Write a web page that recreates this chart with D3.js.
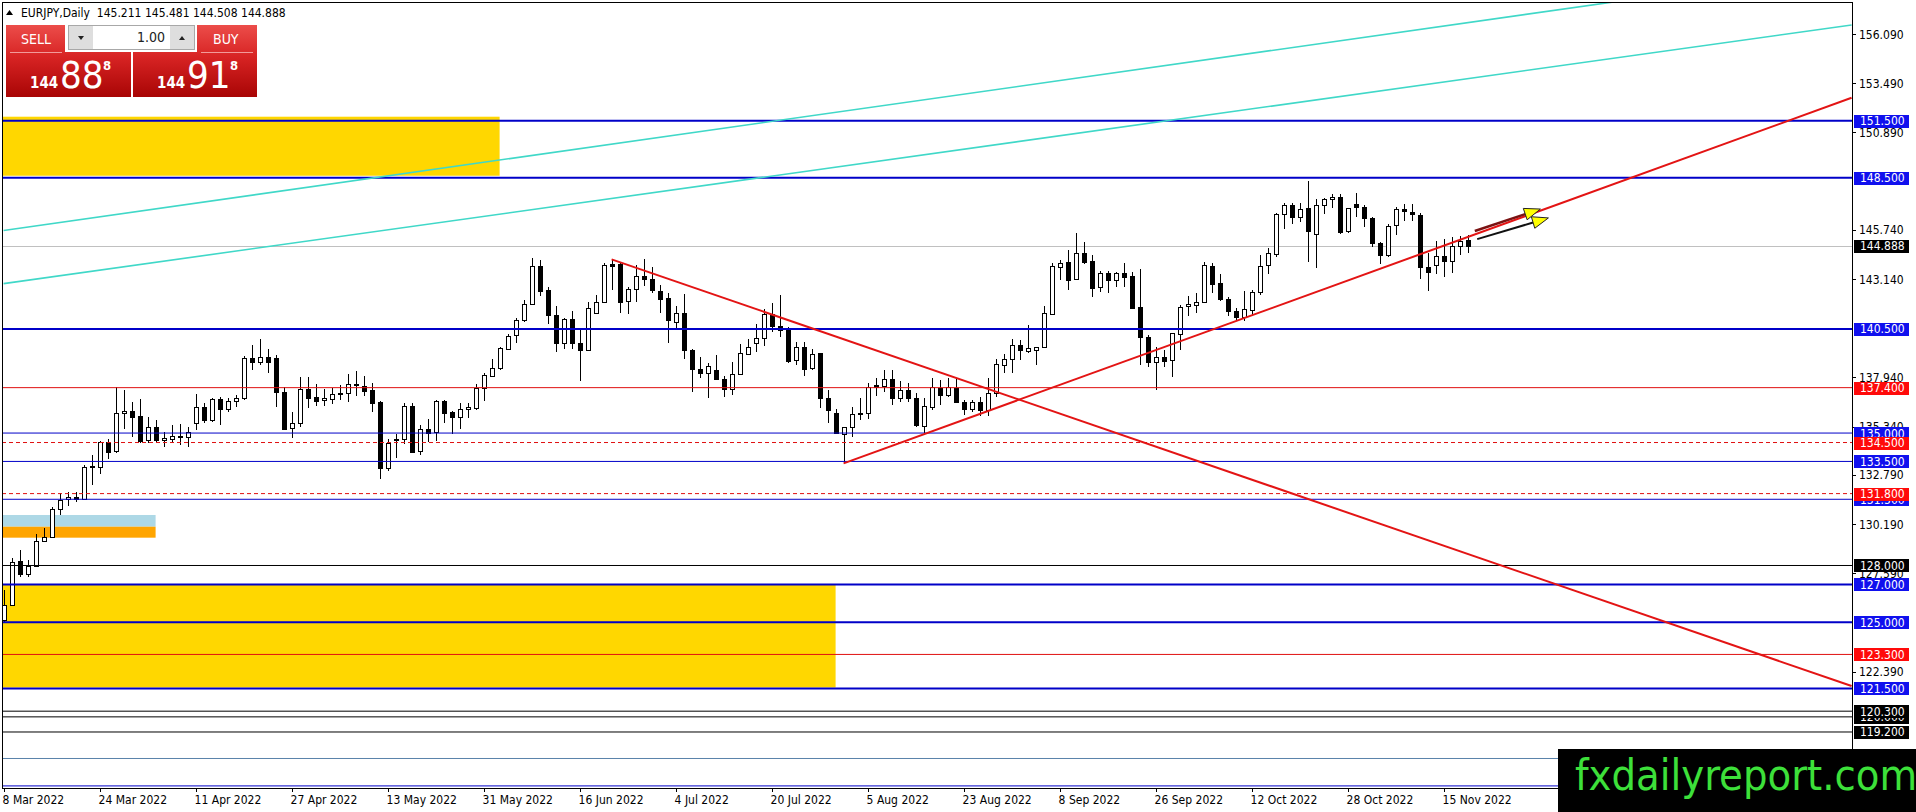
<!DOCTYPE html>
<html>
<head>
<meta charset="utf-8">
<script src="https://cdn.jsdelivr.net/npm/d3@7"></script>
<style>
body{margin:0;background:#fff;overflow:hidden}
text{font-family:"DejaVu Sans Condensed","DejaVu Sans",sans-serif}
</style>
</head>
<body>
<script>
// EURJPY daily candles, 8 Mar 2022 .. 18 Nov 2022
const opens = [
125.10,125.95,128.24,127.53,127.97,129.26,129.49,130.97,131.51,131.60,
131.53,133.25,133.22,134.53,134.02,136.04,136.16,135.90,134.60,135.30,
134.61,134.70,134.84,134.81,135.51,136.36,135.65,136.78,136.25,136.67,
136.82,138.95,138.74,139.00,138.95,137.19,135.24,135.51,137.31,136.90,
136.73,136.81,137.10,137.08,137.57,137.50,137.27,136.62,133.12,134.67,
134.67,136.43,134.02,135.20,135.07,136.69,136.11,135.83,136.25,136.36,
137.40,138.01,138.45,139.44,140.18,140.94,141.80,143.83,142.56,141.24,
139.78,141.03,139.74,139.35,141.33,141.91,143.93,143.93,141.94,142.60,
143.30,143.12,142.52,142.12,140.87,141.33,139.39,138.38,138.16,138.33,
137.84,137.31,138.10,139.21,139.74,140.01,141.29,140.66,140.45,138.89,
139.56,138.42,139.21,136.83,136.04,134.98,135.34,136.00,136.04,137.54,
137.49,137.84,136.83,137.27,136.83,135.39,136.39,137.36,136.97,137.36,
136.62,136.27,136.62,136.20,137.10,138.56,138.89,139.63,139.35,139.39,
139.53,141.29,143.80,144.02,143.18,144.53,144.09,142.70,143.44,143.05,
143.48,143.30,141.64,140.09,138.77,139.04,138.82,140.27,141.68,141.73,
141.91,143.85,142.91,142.07,141.45,141.15,141.54,142.47,143.85,144.44,
146.56,147.05,146.40,146.88,145.50,147.05,147.35,147.46,145.64,147.09,
146.93,146.35,145.03,144.41,145.96,146.82,146.67,146.52,143.79,143.88,
144.38,144.09,144.90,145.211];
const highs = [
126.70,128.41,128.82,128.29,129.67,129.96,131.10,131.85,131.86,131.90,
133.31,133.84,134.58,134.70,137.45,137.27,136.66,136.80,135.83,135.69,
135.07,135.42,135.46,135.33,137.06,136.57,136.83,136.92,136.83,137.01,
139.07,139.65,139.95,139.42,139.12,137.45,136.09,137.98,137.94,137.57,
137.31,137.36,137.54,138.10,138.28,138.01,137.63,136.67,134.67,134.95,
136.60,136.60,135.42,135.74,136.74,136.74,136.18,136.57,136.60,137.57,
138.15,138.91,139.56,140.22,141.10,142.03,144.23,144.15,142.74,141.71,
141.10,141.45,140.48,141.94,142.30,143.97,144.18,143.97,142.74,143.88,
144.18,143.76,142.82,142.42,141.71,142.35,139.42,139.00,138.68,139.12,
138.00,138.77,139.69,139.95,140.76,141.54,141.85,142.30,140.59,139.83,
139.83,139.42,139.25,137.27,136.25,135.34,136.39,136.83,137.66,137.89,
138.33,138.33,137.77,137.66,137.10,136.83,137.89,137.80,137.89,137.84,
136.74,136.74,136.89,137.89,138.90,139.18,139.95,139.92,140.71,139.56,
141.71,144.00,144.14,144.67,145.59,145.08,144.41,143.58,143.58,143.53,
144.00,143.53,143.65,140.18,139.57,139.39,140.30,141.77,142.24,142.38,
144.06,144.00,143.40,142.17,141.60,142.50,142.55,144.40,144.76,146.65,
147.14,147.14,147.14,148.32,147.35,147.44,147.62,147.62,146.91,147.67,
147.05,146.44,145.11,146.05,146.96,147.09,147.09,146.65,144.53,145.17,
145.25,145.38,145.41,145.481];
const lows = [
124.95,125.90,127.37,127.41,127.94,129.26,129.49,130.67,131.14,131.34,
131.53,132.25,132.83,133.61,133.93,135.21,134.81,134.45,134.45,134.54,
134.24,134.49,134.37,134.28,135.16,135.51,135.60,135.42,136.13,136.39,
136.75,138.33,138.60,138.19,136.39,135.20,134.72,135.34,136.34,136.45,
136.45,136.53,136.74,136.66,136.96,136.96,136.13,132.59,133.01,133.70,
134.42,134.02,133.84,134.51,134.58,135.51,134.95,135.20,135.78,136.22,
136.69,137.98,138.33,139.39,139.78,140.89,141.80,142.26,140.74,139.30,
139.42,139.42,137.77,139.35,141.33,141.85,142.56,141.33,141.29,141.94,
142.77,142.38,141.33,139.74,140.53,138.90,137.19,137.89,136.83,137.80,
136.92,137.01,138.07,139.16,139.30,139.60,140.36,140.06,138.72,138.60,
138.00,138.33,136.31,135.51,134.95,133.40,134.77,135.69,135.72,136.96,
137.19,136.48,136.66,136.66,135.34,134.98,136.22,136.48,136.92,136.57,
135.95,136.10,135.90,135.90,136.92,138.15,138.19,138.86,139.21,138.60,
139.48,141.24,143.09,142.56,143.18,143.93,142.21,142.47,142.42,142.73,
142.73,141.54,138.60,138.50,137.27,138.50,137.98,139.39,141.18,141.33,
141.85,142.38,141.99,141.20,140.95,140.90,141.20,142.30,143.40,144.29,
145.77,146.03,146.14,144.06,143.70,146.56,146.88,145.52,145.55,146.44,
145.87,144.85,143.93,144.29,145.47,146.23,146.23,143.12,142.52,143.40,
143.26,143.48,144.41,144.508];
const closes = [
125.90,128.20,127.53,127.97,129.30,129.49,130.98,131.46,131.63,131.50,
133.22,133.18,134.53,134.02,136.04,136.16,135.86,134.60,135.30,134.60,
134.74,134.84,134.85,135.07,136.36,135.65,136.78,136.25,136.67,136.85,
138.95,138.74,139.00,138.74,137.13,135.24,135.51,137.31,136.83,136.71,
136.83,137.06,137.05,137.57,137.50,137.24,136.60,133.12,134.46,134.60,
136.43,134.02,135.20,134.98,136.69,136.08,135.83,136.25,136.36,137.40,
138.07,138.45,139.51,140.14,140.97,141.80,143.83,142.51,141.24,139.78,
141.03,139.74,139.35,141.59,141.91,143.88,143.85,141.94,142.60,143.30,
143.12,142.52,142.12,140.94,141.33,139.39,138.37,138.16,138.54,137.84,
137.31,138.10,139.21,139.56,140.00,141.29,140.66,140.45,138.82,139.56,
138.42,139.18,136.83,136.18,134.98,135.34,136.01,136.07,137.42,137.45,
137.84,136.83,137.27,136.85,135.39,136.43,137.45,136.97,137.41,136.60,
136.27,136.62,136.20,137.10,138.65,138.89,139.63,139.35,139.49,139.53,
141.33,143.83,144.00,143.05,144.53,144.06,142.68,143.44,143.05,143.44,
143.26,141.59,140.06,138.77,139.04,138.82,140.27,141.68,141.80,141.91,
143.88,142.91,142.07,141.45,141.15,141.55,142.47,143.85,144.50,146.56,
147.05,146.44,146.84,145.64,147.05,147.35,147.46,145.61,146.88,146.93,
146.35,145.03,144.41,145.96,146.82,146.70,146.56,143.79,143.53,144.38,
144.09,144.90,145.17,144.888];

// weekday trading days from 8 Mar to 18 Nov 2022
const dates = d3.timeDay.range(new Date(2022, 2, 8), new Date(2022, 10, 19))
    .filter(d => d.getDay() % 6 !== 0);

// price scale labels that are not hidden behind level labels
const priceTicks = [156.090,153.490,150.890,145.740,143.140,137.940,
                    135.340,132.790,130.190,127.590,122.390];

// horizontal levels (labelled)
const levelsBlueThick = [151.5, 148.5, 140.5, 127.0, 125.0, 121.5];
const levelsBlueThin = [135.0, 133.5, 131.5];
const levelsBlack = [128.0, 120.0, 120.3, 119.2];
const levelsRed = [137.4, 123.3];
const levelsRedDashed = [134.5, 131.8];
// levels whose labels sit under the watermark
const levelsSteel = [117.8];
const levelsBlueLow = [116.35];
const lastPrice = 144.888;
const headerText = "EURJPY,Daily  145.211 145.481 144.508 144.888";

// zones: [barFrom, barTo, priceTop, priceBottom]
const zoneGold = [[-2, 62, 151.72, 148.6], [-2, 104, 127.0, 121.55]];
const zoneLightBlue = [[-2, 19, 130.67, 130.05]];
const zoneOrange = [[-2, 19, 130.05, 129.47]];

// trend lines: [[bar, price], [bar, price]]
const trendRed = [[[76, 144.18], [231, 121.63]], [[105, 133.4], [231, 152.72]]];
const trendTeal = [[[0, 145.71], [231, 159.57]], [[0, 142.9], [231, 156.57]]];
const arrowsDark = [[[183.9, 145.68], [192.1, 146.84]]];
const arrowsBlack = [[[184.2, 145.25], [193.1, 146.37]]];

const W = 1916, H = 812;
const plotL = 2, plotR = 1852, plotT = 2, plotB = 788;

const x = d3.scaleLinear().domain([0, 231]).range([3.6, 1851.6]);
const y = d3.scaleLinear().domain([116.24, 157.73]).range([788, 3]);
const fmt = d3.format(".3f");
const fmtDate = d3.timeFormat("%-d %b %Y");

const svg = d3.select("body").append("svg")
    .attr("width", W).attr("height", H)
    .style("display", "block");

const defs = svg.append("defs");
defs.append("clipPath").attr("id", "plot")
    .append("rect").attr("x", plotL).attr("y", plotT)
    .attr("width", plotR - plotL).attr("height", plotB - plotT);
const grad = defs.append("linearGradient").attr("id", "redgrad")
    .attr("gradientUnits", "userSpaceOnUse")
    .attr("x1", 0).attr("y1", 25).attr("x2", 0).attr("y2", 97);
grad.append("stop").attr("offset", 0).attr("stop-color", "#ec4d4a");
grad.append("stop").attr("offset", 0.45).attr("stop-color", "#d72323");
grad.append("stop").attr("offset", 1).attr("stop-color", "#a80505");

const plot = svg.append("g").attr("clip-path", "url(#plot)");

// zones
function drawZones(arr, color) {
    plot.selectAll(null).data(arr).enter().append("rect")
        .attr("x", d => x(d[0])).attr("y", d => y(d[2]))
        .attr("width", d => x(d[1]) - x(d[0]))
        .attr("height", d => y(d[3]) - y(d[2]))
        .attr("fill", color);
}
drawZones(zoneGold, "#ffd700");
drawZones(zoneLightBlue, "#add8e6");
drawZones(zoneOrange, "#ffa500");

// current price line
plot.append("line")
    .attr("x1", plotL).attr("x2", plotR)
    .attr("y1", Math.round(y(lastPrice)) + 0.5).attr("y2", Math.round(y(lastPrice)) + 0.5)
    .attr("stroke", "#c0c0c0").attr("stroke-width", 1);

// candles
const idx = d3.range(closes.length);
const cg = plot.append("g").attr("shape-rendering", "crispEdges");
cg.selectAll("line.wick").data(idx).enter().append("line")
    .attr("class", "wick")
    .attr("x1", i => Math.round(x(i)) + 0.5).attr("x2", i => Math.round(x(i)) + 0.5)
    .attr("y1", i => y(highs[i])).attr("y2", i => y(lows[i]))
    .attr("stroke", "#000");
cg.selectAll("rect.body").data(idx).enter().append("rect")
    .attr("class", "body")
    .attr("x", i => Math.round(x(i)) - 2 + 0.5)
    .attr("y", i => Math.round(y(Math.max(opens[i], closes[i]))) + 0.5)
    .attr("width", 4)
    .attr("height", i => Math.max(1, Math.round(y(Math.min(opens[i], closes[i])) - y(Math.max(opens[i], closes[i])))))
    .attr("fill", i => closes[i] >= opens[i] ? "#fff" : "#000")
    .attr("stroke", "#000");

// horizontal levels
function drawLevels(arr, color, width, dash) {
    plot.selectAll(null).data(arr).enter().append("line")
        .attr("x1", plotL).attr("x2", plotR)
        .attr("y1", d => y(d)).attr("y2", d => y(d))
        .attr("stroke", color).attr("stroke-width", width)
        .attr("stroke-dasharray", dash);
}
drawLevels(levelsSteel, "#5a82aa", 1, null);
drawLevels(levelsBlueLow, "#0000c8", 1, null);
drawLevels(levelsBlack, "#000", 1, null);
drawLevels(levelsBlueThin, "#0000c8", 1, null);
drawLevels(levelsBlueThick, "#0000c8", 2, null);
drawLevels(levelsRed, "#e01010", 1, null);
drawLevels(levelsRedDashed, "#e01010", 1, "4,3");

// trend lines
function drawTrends(arr, color, width) {
    plot.selectAll(null).data(arr).enter().append("line")
        .attr("x1", d => x(d[0][0])).attr("y1", d => y(d[0][1]))
        .attr("x2", d => x(d[1][0])).attr("y2", d => y(d[1][1]))
        .attr("stroke", color).attr("stroke-width", width);
}
drawTrends(trendTeal, "#40d8c8", 1.6);
drawTrends(trendRed, "#e31414", 2);

// arrows
function drawArrows(arr, color, width) {
    arr.forEach(a => {
        const x0 = x(a[0][0]), y0 = y(a[0][1]), x1 = x(a[1][0]), y1 = y(a[1][1]);
        const ang = Math.atan2(y1 - y0, x1 - x0);
        const len = 16, hw = 6;
        const bx = x1 - len * Math.cos(ang), by = y1 - len * Math.sin(ang);
        plot.append("line")
            .attr("x1", x0).attr("y1", y0).attr("x2", bx).attr("y2", by)
            .attr("stroke", color).attr("stroke-width", width);
        const pts = [
            [x1, y1],
            [bx + hw * Math.sin(ang), by - hw * Math.cos(ang)],
            [bx - hw * Math.sin(ang), by + hw * Math.cos(ang)]
        ];
        plot.append("polygon")
            .attr("points", pts.map(p => p.join(",")).join(" "))
            .attr("fill", "#ffff00").attr("stroke", "#222").attr("stroke-width", 1);
    });
}
drawArrows(arrowsDark, "#7a1212", 2.5);
drawArrows(arrowsBlack, "#111", 2);

// frame
svg.append("rect")
    .attr("x", plotL + 0.5).attr("y", plotT + 0.5)
    .attr("width", plotR - plotL).attr("height", plotB - plotT)
    .attr("fill", "none").attr("stroke", "#000").attr("shape-rendering", "crispEdges");

// price axis ticks
const ax = svg.append("g");
ax.selectAll(null).data(priceTicks).enter().append("line")
    .attr("x1", plotR).attr("x2", plotR + 4)
    .attr("y1", d => Math.round(y(d)) + 0.5).attr("y2", d => Math.round(y(d)) + 0.5)
    .attr("stroke", "#000");
ax.selectAll(null).data(priceTicks).enter().append("text")
    .attr("x", plotR + 7).attr("y", d => y(d) + 4.5)
    .attr("font-size", 12).attr("fill", "#000")
    .text(d => fmt(d));

// level labels
function drawLabels(arr, color) {
    const g = svg.append("g");
    arr.forEach(p => {
        g.append("rect")
            .attr("x", plotR + 2).attr("y", Math.round(y(p)) - 6)
            .attr("width", 55).attr("height", 13)
            .attr("fill", color);
        g.append("text")
            .attr("x", plotR + 8).attr("y", y(p) + 4.5)
            .attr("font-size", 12).attr("fill", "#fff")
            .text(fmt(p));
    });
}
drawLabels(levelsBlueThick, "#1010ee");
drawLabels(levelsBlueThin, "#1010ee");
drawLabels(levelsBlack, "#000");
drawLabels(levelsRed, "#ff0a0a");
drawLabels(levelsRedDashed, "#ff0a0a");
drawLabels([lastPrice], "#000");

// date axis
const dateIdx = idx.filter(i => i % 12 === 0);
svg.selectAll(null).data(dateIdx).enter().append("line")
    .attr("x1", i => Math.round(x(i)) + 0.5).attr("x2", i => Math.round(x(i)) + 0.5)
    .attr("y1", plotB).attr("y2", plotB + 4)
    .attr("stroke", "#000");
svg.selectAll(null).data(dateIdx).enter().append("text")
    .attr("x", i => x(i) - 1).attr("y", 804)
    .attr("font-size", 12).attr("fill", "#000")
    .text(i => fmtDate(dates[i]));

// header
svg.append("polygon").attr("points", "6,15 9.5,10 13,15").attr("fill", "#000");
svg.append("text").attr("x", 21).attr("y", 17)
    .attr("font-size", 12).attr("fill", "#000")
    .attr("xml:space", "preserve").style("white-space", "pre")
    .text(headerText);

// one click trading panel
const panel = svg.append("g");
panel.append("rect").attr("x", 6).attr("y", 25).attr("width", 59).attr("height", 28).attr("fill", "url(#redgrad)");
panel.append("rect").attr("x", 197).attr("y", 25).attr("width", 60).attr("height", 28).attr("fill", "url(#redgrad)");
panel.append("rect").attr("x", 6).attr("y", 52).attr("width", 125).attr("height", 45).attr("fill", "url(#redgrad)");
panel.append("rect").attr("x", 133).attr("y", 52).attr("width", 124).attr("height", 45).attr("fill", "url(#redgrad)");
panel.append("line").attr("x1", 10).attr("x2", 62).attr("y1", 52.5).attr("y2", 52.5).attr("stroke", "#f29a9a");
panel.append("line").attr("x1", 201).attr("x2", 253).attr("y1", 52.5).attr("y2", 52.5).attr("stroke", "#f29a9a");
panel.append("rect").attr("x", 68.5).attr("y", 25.5).attr("width", 126).attr("height", 24)
    .attr("fill", "#fff").attr("stroke", "#a8a8a8");
panel.append("rect").attr("x", 69).attr("y", 26).attr("width", 24).attr("height", 23).attr("fill", "#dedede");
panel.append("rect").attr("x", 170).attr("y", 26).attr("width", 24).attr("height", 23).attr("fill", "#dedede");
panel.append("polygon").attr("points", "78,36 84,36 81,40").attr("fill", "#222");
panel.append("polygon").attr("points", "179,40 185,40 182,36").attr("fill", "#222");
panel.append("text").attr("x", 165).attr("y", 42).attr("text-anchor", "end")
    .attr("font-size", 14).attr("fill", "#222").text("1.00");
panel.append("text").attr("x", 21).attr("y", 44).attr("font-size", 14).attr("fill", "#fff").text("SELL");
panel.append("text").attr("x", 213).attr("y", 44).attr("font-size", 14).attr("fill", "#fff").text("BUY");

function bigPrice(x0, small, big, sup) {
    panel.append("text").attr("x", x0).attr("y", 88)
        .attr("font-family", "Liberation Sans, Arial, sans-serif")
        .attr("font-size", 15).attr("font-weight", "bold").attr("fill", "#fff").text(small);
    panel.append("text").attr("x", x0 + 30).attr("y", 88)
        .attr("font-family", "Liberation Sans, Arial, sans-serif")
        .attr("font-size", 38).attr("fill", "#fff").text(big);
    panel.append("text").attr("x", x0 + 73).attr("y", 70)
        .attr("font-family", "Liberation Sans, Arial, sans-serif")
        .attr("font-size", 13).attr("font-weight", "bold").attr("fill", "#fff").text(sup);
}
bigPrice(30, "144", "88", "8");
bigPrice(157, "144", "91", "8");

// watermark
svg.append("rect").attr("x", 1558).attr("y", 749).attr("width", W - 1558).attr("height", H - 749).attr("fill", "#000");
svg.append("text").attr("x", 1575).attr("y", 790)
    .attr("font-family", "Liberation Sans, Arial, sans-serif")
    .attr("font-size", 43).attr("fill", "#3de03a")
    .text("fxdailyreport.com");
</script>
</body>
</html>
